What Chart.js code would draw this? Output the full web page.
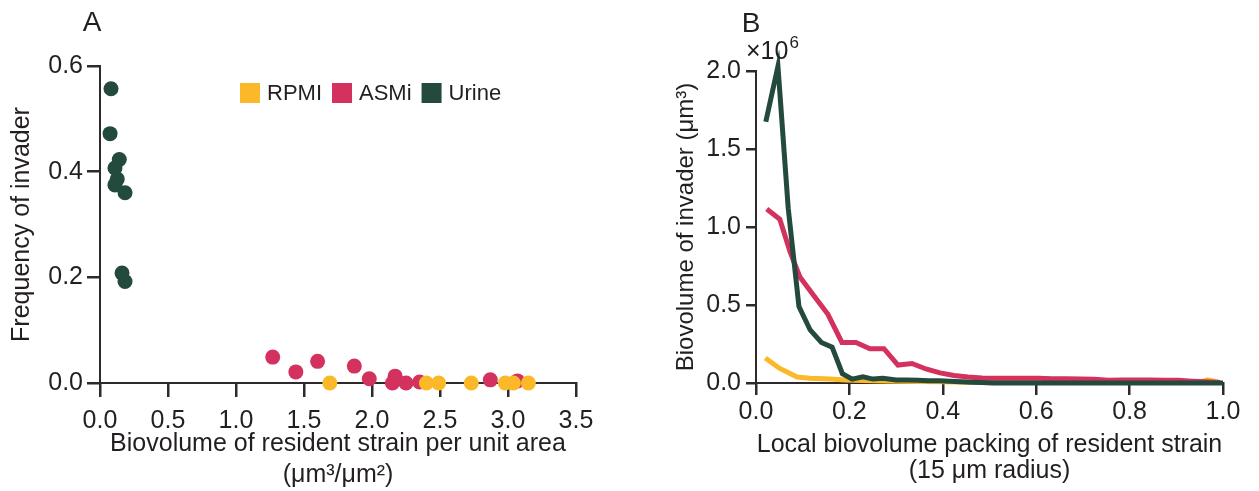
<!DOCTYPE html>
<html><head><meta charset="utf-8">
<script src="https://cdn.jsdelivr.net/npm/chart.js@4.4.1/dist/chart.umd.min.js"></script>
<style>
html,body{margin:0;padding:0;background:#fff;width:1259px;height:491px;overflow:hidden}
canvas{position:absolute;top:0}
#ca{left:0}
#cb{left:630px}
</style></head><body>
<canvas id="ca" width="630" height="491"></canvas>
<canvas id="cb" width="629" height="491"></canvas>
<script>
// ---------- shared ----------
const seriesNames = ['RPMI', 'ASMi', 'Urine'];
const seriesColors = ['#fbb829', '#d3315e', '#234a3d'];

// ---------- Panel A data ----------
const rpmiX = [1.69, 2.40, 2.49, 2.73, 2.98, 3.04, 3.15];
const rpmiY = [0, 0, 0, 0, 0, 0, 0];
const asmiX = [1.27, 1.44, 1.60, 1.87, 1.98, 2.17, 2.15, 2.25, 2.35, 2.87, 3.07];
const asmiY = [0.049, 0.021, 0.041, 0.032, 0.008, 0.013, 0.0, 0.0, 0.002, 0.006, 0.004];
const urineX = [0.081, 0.074, 0.142, 0.110, 0.127, 0.110, 0.184, 0.162, 0.184];
const urineY = [0.557, 0.472, 0.423, 0.407, 0.386, 0.375, 0.360, 0.208, 0.192];
const aXTicks = [0, 0.5, 1.0, 1.5, 2.0, 2.5, 3.0, 3.5];
const aYTicks = [0, 0.2, 0.4, 0.6];
const aXTitle = ['Biovolume of resident strain per unit area', '(\u03bcm\u00b3/\u03bcm\u00b2)'];
const aYTitle = 'Frequency of invader';

// ---------- Panel B data ----------
const rpmiLineX = [0.02, 0.05, 0.088, 0.115, 0.16, 0.19, 0.25, 0.30, 0.35, 0.40, 0.45, 0.50, 0.60, 0.70, 0.80, 0.90, 0.95, 0.967, 0.99];
const rpmiLineY = [0.16, 0.095, 0.038, 0.03, 0.025, 0.02, 0.015, 0.012, 0.01, 0.008, 0.005, 0.003, 0.003, 0.003, 0.003, 0.003, 0.004, 0.02, 0.005];
const asmiLineX = [0.023, 0.051, 0.073, 0.094, 0.124, 0.154, 0.184, 0.214, 0.244, 0.274, 0.304, 0.334, 0.364, 0.394, 0.424, 0.454, 0.484, 0.514, 0.544, 0.574, 0.604, 0.634, 0.664, 0.694, 0.724, 0.754, 0.784, 0.814, 0.844, 0.874, 0.904, 0.934, 0.964, 0.994];
const asmiLineY = [1.115, 1.05, 0.84, 0.68, 0.56, 0.44, 0.26, 0.26, 0.22, 0.22, 0.115, 0.125, 0.09, 0.065, 0.048, 0.038, 0.032, 0.03, 0.03, 0.03, 0.03, 0.028, 0.028, 0.026, 0.024, 0.018, 0.02, 0.02, 0.019, 0.018, 0.017, 0.012, 0.008, 0.004];
const urineLineX = [0.021, 0.047, 0.069, 0.092, 0.116, 0.14, 0.163, 0.185, 0.206, 0.229, 0.25, 0.272, 0.3, 0.323, 0.346, 0.369, 0.392, 0.415, 0.438, 0.461, 0.484, 0.507, 0.55, 0.6, 0.65, 0.7, 0.75, 0.8, 0.85, 0.9, 0.95, 1.0];
const urineLineY = [1.675, 2.03, 1.12, 0.49, 0.34, 0.26, 0.23, 0.06, 0.025, 0.04, 0.025, 0.03, 0.02, 0.02, 0.018, 0.015, 0.015, 0.012, 0.008, 0.005, 0.003, 0, 0, 0, 0, 0, 0, 0, 0, 0, 0, 0];
const bXTicks = [0, 0.2, 0.4, 0.6, 0.8, 1.0];
const bYTicks = [0, 0.5, 1.0, 1.5, 2.0];
const bXTitle = ['Local biovolume packing of resident strain', '(15 \u03bcm radius)'];
const bYTitle = 'Biovolume of invader (\u03bcm\u00b3)';
const bExponent = '6';

// ---------- styling ----------
const FONT = "'Liberation Sans', Arial, Helvetica, sans-serif";
const TEXT = '#231f20';
const AXIS = '#2d2a2b';
Chart.defaults.font.family = FONT;
Chart.defaults.color = TEXT;

function pts(xs, ys) { return xs.map((x, i) => ({ x: x, y: ys[i] })); }
function setTicks(vals) { return s => { s.ticks = vals.map(v => ({ value: v })); }; }

function axisCfg(o) {
  return {
    type: 'linear', min: o.min, max: o.max,
    afterBuildTicks: setTicks(o.ticks),
    afterFit: o.fit,
    ticks: { callback: v => Number(v).toFixed(1), font: { size: o.tickSize, lineHeight: 1.2 }, color: TEXT, padding: o.pad, maxRotation: 0, autoSkip: false },
    grid: { display: true, drawOnChartArea: false, drawTicks: true, tickLength: o.tl, tickWidth: 2.5, tickColor: AXIS, color: AXIS, lineWidth: 2.5 },
    border: { display: true, color: AXIS, width: 2 },
    title: { display: true, text: o.title, color: TEXT, font: { size: o.titleSize, lineHeight: o.titleLH }, padding: o.titlePad }
  };
}

// ---------- Panel A ----------
const panelAPlugin = {
  id: 'panelA',
  afterDraw(chart) {
    const ctx = chart.ctx, ca = chart.chartArea;
    ctx.save();
    ctx.fillStyle = TEXT;
    ctx.font = '28px ' + FONT;
    ctx.textAlign = 'center'; ctx.textBaseline = 'middle';
    ctx.fillText('A', 92, 23);
    // legend
    ctx.font = '22px ' + FONT;
    ctx.textAlign = 'left';
    let x = ca.left + 140;
    const top = ca.top + 17, sq = 20;
    seriesNames.forEach((n, i) => {
      ctx.fillStyle = seriesColors[i];
      ctx.fillRect(x, top, sq, sq);
      x += sq + 7;
      ctx.fillStyle = TEXT;
      ctx.fillText(n, x, top + sq / 2 + 1);
      x += ctx.measureText(n).width + 10;
    });
    ctx.restore();
  }
};

new Chart(document.getElementById('ca'), {
  type: 'scatter',
  data: {
    datasets: [
      { label: seriesNames[0], data: pts(rpmiX, rpmiY), backgroundColor: seriesColors[0], borderColor: seriesColors[0], pointRadius: 7.5, borderWidth: 0, order: 1, clip: false },
      { label: seriesNames[1], data: pts(asmiX, asmiY), backgroundColor: seriesColors[1], borderColor: seriesColors[1], pointRadius: 7.5, borderWidth: 0, order: 2, clip: false },
      { label: seriesNames[2], data: pts(urineX, urineY), backgroundColor: seriesColors[2], borderColor: seriesColors[2], pointRadius: 7.5, borderWidth: 0, order: 3, clip: false }
    ]
  },
  options: {
    responsive: false, animation: false,
    layout: { padding: { top: 66, left: 0, right: 54, bottom: 0 } },
    plugins: { legend: { display: false }, tooltip: { enabled: false } },
    scales: {
      x: axisCfg({ min: 0, max: 3.5, ticks: aXTicks, tickSize: 25, pad: 9, tl: 14, title: aXTitle, titleSize: 25, titleLH: 1.25, titlePad: { top: 0, bottom: 0 }, fit: s => { s.height = 108; } }),
      y: axisCfg({ min: 0, max: 0.6, ticks: aYTicks, tickSize: 25, pad: 4, tl: 13, title: aYTitle, titleSize: 25, titleLH: 1.2, titlePad: { top: 7, bottom: 0 }, fit: s => { s.width = 100; } })
    }
  },
  plugins: [panelAPlugin]
});

// ---------- Panel B ----------
const panelBPlugin = {
  id: 'panelB',
  afterDraw(chart) {
    const ctx = chart.ctx;
    ctx.save();
    ctx.fillStyle = TEXT;
    ctx.font = '28px ' + FONT;
    ctx.textAlign = 'center'; ctx.textBaseline = 'middle';
    ctx.fillText('B', 121, 24);
    ctx.textAlign = 'left'; ctx.textBaseline = 'alphabetic';
    ctx.font = '25px ' + FONT;
    const base = '\u00d710';
    ctx.fillText(base, 116, 59);
    const w = ctx.measureText(base).width;
    ctx.font = '17px ' + FONT;
    ctx.fillText(bExponent, 116 + w + 1, 48);
    ctx.restore();
  }
};

new Chart(document.getElementById('cb'), {
  type: 'line',
  data: {
    datasets: [
      { label: seriesNames[0], data: pts(rpmiLineX, rpmiLineY), borderColor: seriesColors[0], backgroundColor: seriesColors[0], borderWidth: 5, pointRadius: 0, tension: 0, fill: false, order: 3, clip: false },
      { label: seriesNames[1], data: pts(asmiLineX, asmiLineY), borderColor: seriesColors[1], backgroundColor: seriesColors[1], borderWidth: 5, pointRadius: 0, tension: 0, fill: false, order: 2, clip: false },
      { label: seriesNames[2], data: pts(urineLineX, urineLineY), borderColor: seriesColors[2], backgroundColor: seriesColors[2], borderWidth: 5, pointRadius: 0, tension: 0, fill: false, order: 1, clip: false }
    ]
  },
  options: {
    responsive: false, animation: false,
    layout: { padding: { top: 71, left: 0, right: 36, bottom: 0 } },
    plugins: { legend: { display: false }, tooltip: { enabled: false } },
    scales: {
      x: axisCfg({ min: 0, max: 1, ticks: bXTicks, tickSize: 25, pad: 2, tl: 12, title: bXTitle, titleSize: 25, titleLH: 1.04, titlePad: { top: 0, bottom: 7 }, fit: s => { s.height = 108; } }),
      y: axisCfg({ min: 0, max: 2, ticks: bYTicks, tickSize: 25, pad: 5, tl: 10, title: bYTitle, titleSize: 24, titleLH: 1.2, titlePad: { top: 42, bottom: 0 }, fit: s => { s.width = 126; } })
    }
  },
  plugins: [panelBPlugin]
});
</script>
</body></html>
